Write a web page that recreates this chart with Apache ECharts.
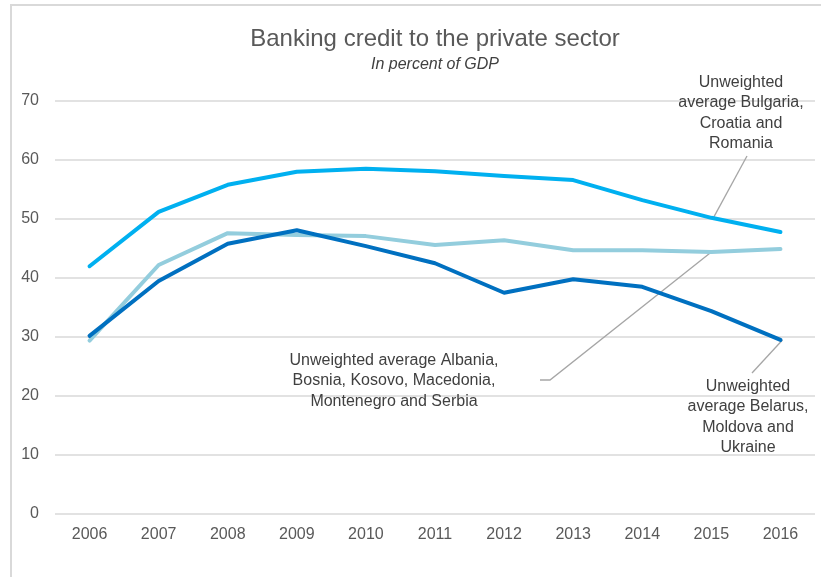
<!DOCTYPE html>
<html>
<head>
<meta charset="utf-8">
<script src="https://cdn.jsdelivr.net/npm/echarts@6/dist/echarts.min.js"></script>
<style>
html,body{margin:0;padding:0;background:#fff;}
#chart{width:821px;height:577px;}
</style>
</head>
<body>
<div id="chart"></div>
<script>
const years = ['2006','2007','2008','2009','2010','2011','2012','2013','2014','2015','2016'];
const bgHrRo = [42.0, 51.2, 55.8, 58.0, 58.5, 58.1, 57.3, 56.6, 53.2, 50.2, 47.8];
const westernBalkans = [29.4, 42.2, 47.6, 47.3, 47.1, 45.6, 46.4, 44.7, 44.7, 44.4, 44.9];
const byMdUa = [30.2, 39.5, 45.8, 48.1, 45.4, 42.5, 37.5, 39.8, 38.5, 34.4, 29.5];
const yTicks = [0, 10, 20, 30, 40, 50, 60, 70];

const labelA = 'Unweighted\naverage Bulgaria,\nCroatia and\nRomania';
const labelB = 'Unweighted average Albania,\nBosnia, Kosovo, Macedonia,\nMontenegro and Serbia';
const labelC = 'Unweighted\naverage Belarus,\nMoldova and\nUkraine';

const FONT = 'Liberation Sans, Arial, sans-serif';
const chart = echarts.init(document.getElementById('chart'));

function lineSeries(name, data, color) {
  return {
    name, type: 'line', data, symbol: 'none', smooth: false,
    lineStyle: { color, width: 4, cap: 'round', join: 'round' },
    itemStyle: { color }
  };
}

chart.setOption({
  animation: false,
  backgroundColor: '#fff',
  title: {
    text: 'Banking credit to the private sector',
    subtext: 'In percent of GDP',
    left: 430, textAlign: 'center', top: 22, itemGap: 6,
    textStyle: { fontFamily: FONT, fontSize: 24, fontWeight: 'normal', color: '#595959' },
    subtextStyle: { fontFamily: FONT, fontSize: 16, fontStyle: 'italic', color: '#404040' }
  },
  grid: { left: 55, right: 6, top: 101, bottom: 63 },
  xAxis: {
    type: 'category', data: years, boundaryGap: true,
    axisLine: { show: false }, axisTick: { show: false },
    axisLabel: { fontFamily: FONT, fontSize: 16, color: '#595959', margin: 13 }
  },
  yAxis: {
    type: 'value', min: yTicks[0], max: yTicks[yTicks.length - 1], interval: 10,
    axisLine: { show: false }, axisTick: { show: false },
    axisLabel: { fontFamily: FONT, fontSize: 16, color: '#595959', margin: 16 },
    splitLine: { lineStyle: { color: '#d9d9d9', width: 1.5 } }
  },
  series: [
    lineSeries('Bulgaria, Croatia, Romania', bgHrRo, '#00B0F0'),
    lineSeries('Western Balkans', westernBalkans, '#93CDDD'),
    lineSeries('Belarus, Moldova, Ukraine', byMdUa, '#0070C0')
  ]
});

function px(idx, val) { return chart.convertToPixel({ gridIndex: 0 }, [idx, val]); }
const pA = px(9, bgHrRo[9]);
const pB = px(9, westernBalkans[9]);
const pC = px(10, byMdUa[10]);
const textStyle = { fontFamily: FONT, fontSize: 16, fill: '#404040', textAlign: 'center', lineHeight: 20.5 };
const leader = { stroke: '#a6a6a6', lineWidth: 1.3 };

chart.setOption({
  graphic: [
    { type: 'polyline', silent: true, shape: { points: [[11, 577], [11, 5], [821, 5]] }, style: { stroke: '#d9d9d9', lineWidth: 2, fill: null } },
    { type: 'text', x: 741, y: 72, style: Object.assign({ text: labelA }, textStyle) },
    { type: 'line', shape: { x1: 747, y1: 156, x2: pA[0] + 2, y2: pA[1] }, style: leader },
    { type: 'text', x: 394, y: 350, style: Object.assign({ text: labelB }, textStyle) },
    { type: 'polyline', shape: { points: [[540, 380], [550, 380], [pB[0], pB[1]]] }, style: Object.assign({ fill: null }, leader) },
    { type: 'text', x: 748, y: 376, style: Object.assign({ text: labelC }, textStyle) },
    { type: 'line', shape: { x1: 752, y1: 373, x2: pC[0] + 2, y2: pC[1] }, style: leader }
  ]
});
</script>
</body>
</html>
